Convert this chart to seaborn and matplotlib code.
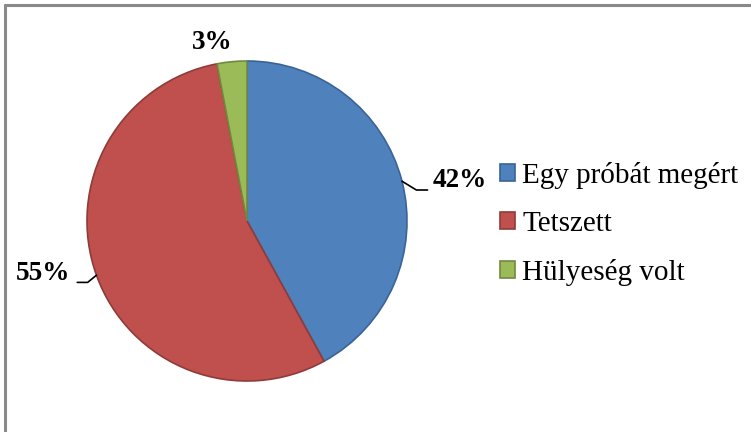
import numpy as np
import matplotlib
matplotlib.use("Agg")
import matplotlib.pyplot as plt
import seaborn as sns
from matplotlib.patches import Patch
from matplotlib.lines import Line2D

categories = ["Egy próbát megért", "Tetszett", "Hülyeség volt"]
shares = [42, 55, 3]
pct_labels = ["42%", "55%", "3%"]

fills = ["#4F81BD", "#C0504D", "#9BBB59"]
edges = ["#3A6496", "#8E3B39", "#71893F"]

sns.set_theme(style="white")
plt.rcParams["font.family"] = ["Liberation Serif", "DejaVu Serif"]
plt.rcParams["text.color"] = "black"

W, H = 751, 432
fig = plt.figure(figsize=(W / 100, H / 100), dpi=100)
ax = fig.add_axes([0, 0, 1, 1])

# pie centre at (247, 221) px, radius 160 px
cx, cy, r = 247, 221, 160
wedges, _ = ax.pie(shares, colors=fills, startangle=90, counterclock=False,
                   wedgeprops=dict(linewidth=1.2))
for w, ec in zip(wedges, edges):
    w.set_edgecolor(ec)

ax.set_aspect("auto")
ax.set_xlim(-cx / r, (W - cx) / r)
ax.set_ylim(-(H - cy) / r, cy / r)
ax.axis("off")

# label offsets from wedge edge, leader elbow / end offsets (None = no leader)
text_off = [(0.19, 0.005), (-0.165, 0.01), (-0.125, 0.117)]
aligns = ["left", "right", "center"]
leaders = [[(0.09, -0.055), (0.16, -0.055)],
           [(-0.055, -0.045), (-0.12, -0.045)],
           None]

for w, lab, off, ha, ld in zip(wedges, pct_labels, text_off, aligns, leaders):
    mid = np.deg2rad((w.theta1 + w.theta2) / 2)
    ex, ey = np.cos(mid), np.sin(mid)
    ax.text(ex + off[0], ey + off[1], lab, ha=ha, va="center",
            fontsize=19.5, fontweight="bold", color="black")
    if ld:
        xs = [ex] + [ex + p[0] for p in ld]
        ys = [ey] + [ey + p[1] for p in ld]
        ax.plot(xs, ys, color="black", lw=1.2)

handles = [Patch(facecolor=f, edgecolor=e, linewidth=1.2) for f, e in zip(fills, edges)]
fig.legend(handles, categories, loc="center left", bbox_to_anchor=(500 / W, 0.482),
           frameon=False, fontsize=21, labelcolor="black",
           handlelength=0.52, handleheight=0.52,
           handletextpad=0.25, labelspacing=0.75, borderpad=0, borderaxespad=0)

# chart border (top and left visible)
fig.add_artist(Line2D([5 / W, 1], [1 - 5 / H, 1 - 5 / H], color="#8A8A8A", lw=2.2))
fig.add_artist(Line2D([5 / W, 5 / W], [0, 1 - 5 / H], color="#8A8A8A", lw=2.2))

fig.savefig("out.png", dpi=100)
